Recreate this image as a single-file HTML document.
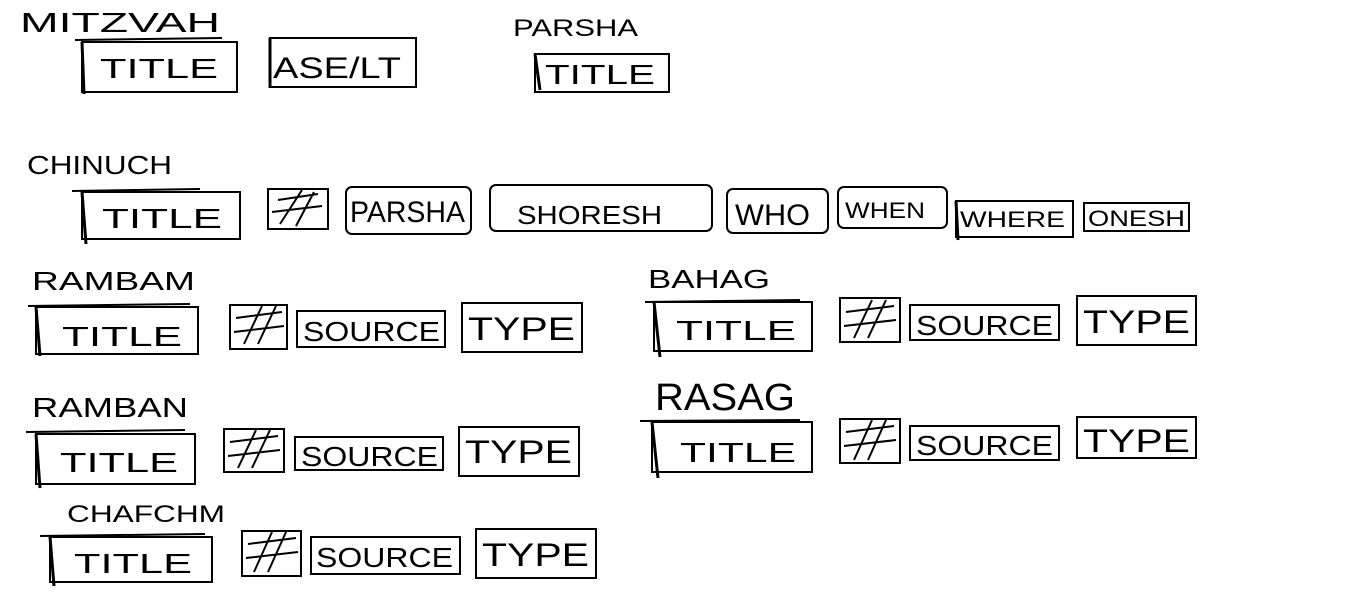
<!DOCTYPE html>
<html><head><meta charset="utf-8"><style>
html,body{margin:0;padding:0;background:#fff;}
svg{display:block}
text{font-family:"Liberation Sans",sans-serif;fill:#000}
.b{fill:none;stroke:#000;stroke-width:2}
.t{fill:none;stroke:#000;stroke-width:3}
</style></head><body>
<svg width="1360" height="599" viewBox="0 0 1360 599" xmlns="http://www.w3.org/2000/svg">
<!-- MITZVAH -->
<text x="20" y="32" font-size="28" textLength="200" lengthAdjust="spacingAndGlyphs">MITZVAH</text>
<line class="b" x1="75" y1="40" x2="222" y2="38"/>
<rect class="b" x="82" y="42" width="155" height="50"/><line class="t" x1="82" y1="42" x2="84" y2="94"/>
<text x="100" y="78" font-size="28" textLength="118" lengthAdjust="spacingAndGlyphs">TITLE</text>
<rect class="b" x="270" y="38" width="146" height="49"/><line class="t" x1="270" y1="38" x2="270" y2="88"/>
<text x="273" y="78" font-size="30" textLength="128" lengthAdjust="spacingAndGlyphs">ASE/LT</text>
<text x="513" y="36" font-size="24" textLength="125" lengthAdjust="spacingAndGlyphs">PARSHA</text>
<rect class="b" x="535" y="54" width="134" height="38"/><line class="t" x1="535" y1="54" x2="540" y2="90"/>
<text x="545" y="84" font-size="28" textLength="110" lengthAdjust="spacingAndGlyphs">TITLE</text>
<!-- CHINUCH -->
<text x="27" y="174" font-size="26" textLength="145" lengthAdjust="spacingAndGlyphs">CHINUCH</text>
<line class="b" x1="72" y1="191" x2="200" y2="189"/>
<rect class="b" x="82" y="192" width="158" height="47"/><line class="t" x1="82" y1="192" x2="86" y2="244"/>
<text x="102" y="228" font-size="28" textLength="120" lengthAdjust="spacingAndGlyphs">TITLE</text>
<rect class="b" x="268" y="189" width="60" height="40"/>
<path class="b" d="M278 200 L318 194 M272 212 L322 206 M280 224 L302 190 M296 226 L314 192"/>
<rect class="b" x="346" y="187" width="125" height="47" rx="6"/>
<text x="350" y="222" font-size="30" textLength="115" lengthAdjust="spacingAndGlyphs">PARSHA</text>
<rect class="b" x="490" y="185" width="222" height="46" rx="6"/>
<text x="517" y="224" font-size="26" textLength="145" lengthAdjust="spacingAndGlyphs">SHORESH</text>
<rect class="b" x="727" y="189" width="101" height="44" rx="6"/>
<text x="735" y="225" font-size="30" textLength="75" lengthAdjust="spacingAndGlyphs">WHO</text>
<rect class="b" x="838" y="187" width="109" height="41" rx="6"/>
<text x="845" y="218" font-size="22" textLength="80" lengthAdjust="spacingAndGlyphs">WHEN</text>
<rect class="b" x="956" y="201" width="117" height="36"/><line class="t" x1="956" y1="201" x2="958" y2="240"/>
<text x="960" y="227" font-size="22" textLength="105" lengthAdjust="spacingAndGlyphs">WHERE</text>
<rect class="b" x="1084" y="203" width="105" height="28"/>
<text x="1088" y="226" font-size="22" textLength="97" lengthAdjust="spacingAndGlyphs">ONESH</text>
<!-- RAMBAM -->
<text x="32" y="290" font-size="26" textLength="163" lengthAdjust="spacingAndGlyphs">RAMBAM</text>
<line class="b" x1="28" y1="306" x2="190" y2="304"/>
<rect class="b" x="36" y="307" width="162" height="47"/><line class="t" x1="36" y1="307" x2="40" y2="356"/>
<text x="62" y="346" font-size="28" textLength="120" lengthAdjust="spacingAndGlyphs">TITLE</text>
<rect class="b" x="230" y="305" width="57" height="44"/>
<path class="b" d="M236 318 L282 312 M234 332 L284 326 M244 344 L262 306 M258 344 L276 306"/>
<rect class="b" x="297" y="311" width="148" height="36"/>
<text x="303" y="341" font-size="28" textLength="137" lengthAdjust="spacingAndGlyphs">SOURCE</text>
<rect class="b" x="462" y="303" width="120" height="49"/>
<text x="468" y="340" font-size="32" textLength="107" lengthAdjust="spacingAndGlyphs">TYPE</text>
<!-- BAHAG -->
<text x="648" y="288" font-size="26" textLength="122" lengthAdjust="spacingAndGlyphs">BAHAG</text>
<line class="b" x1="645" y1="302" x2="800" y2="300"/>
<rect class="b" x="654" y="302" width="158" height="49"/><line class="t" x1="654" y1="302" x2="660" y2="357"/>
<text x="676" y="340" font-size="28" textLength="120" lengthAdjust="spacingAndGlyphs">TITLE</text>
<rect class="b" x="840" y="298" width="60" height="44"/>
<path class="b" d="M846 312 L894 306 M844 326 L896 320 M854 338 L872 300 M868 338 L886 300"/>
<rect class="b" x="910" y="305" width="149" height="35"/>
<text x="916" y="335" font-size="28" textLength="137" lengthAdjust="spacingAndGlyphs">SOURCE</text>
<rect class="b" x="1077" y="296" width="119" height="49"/>
<text x="1083" y="333" font-size="32" textLength="107" lengthAdjust="spacingAndGlyphs">TYPE</text>
<!-- RAMBAN -->
<text x="32" y="417" font-size="28" textLength="156" lengthAdjust="spacingAndGlyphs">RAMBAN</text>
<line class="b" x1="26" y1="432" x2="185" y2="430"/>
<rect class="b" x="36" y="434" width="159" height="50"/><line class="t" x1="36" y1="434" x2="40" y2="488"/>
<text x="60" y="472" font-size="28" textLength="118" lengthAdjust="spacingAndGlyphs">TITLE</text>
<rect class="b" x="224" y="429" width="60" height="43"/>
<path class="b" d="M230 442 L278 436 M228 456 L280 450 M238 468 L256 430 M252 468 L270 430"/>
<rect class="b" x="295" y="437" width="148" height="33"/>
<text x="301" y="466" font-size="28" textLength="137" lengthAdjust="spacingAndGlyphs">SOURCE</text>
<rect class="b" x="459" y="427" width="120" height="49"/>
<text x="465" y="463" font-size="32" textLength="107" lengthAdjust="spacingAndGlyphs">TYPE</text>
<!-- RASAG -->
<text x="655" y="410" font-size="38" textLength="140" lengthAdjust="spacingAndGlyphs">RASAG</text>
<line class="b" x1="640" y1="421" x2="800" y2="420"/>
<rect class="b" x="652" y="422" width="160" height="50"/><line class="t" x1="652" y1="422" x2="658" y2="478"/>
<text x="680" y="462" font-size="28" textLength="116" lengthAdjust="spacingAndGlyphs">TITLE</text>
<rect class="b" x="840" y="419" width="60" height="44"/>
<path class="b" d="M846 432 L894 426 M844 446 L896 440 M854 460 L872 420 M868 460 L886 420"/>
<rect class="b" x="910" y="426" width="149" height="34"/>
<text x="916" y="455" font-size="28" textLength="137" lengthAdjust="spacingAndGlyphs">SOURCE</text>
<rect class="b" x="1077" y="417" width="119" height="41"/>
<text x="1083" y="452" font-size="32" textLength="107" lengthAdjust="spacingAndGlyphs">TYPE</text>
<!-- CHAFCHM -->
<text x="67" y="522" font-size="24" textLength="158" lengthAdjust="spacingAndGlyphs">CHAFCHM</text>
<line class="b" x1="40" y1="536" x2="205" y2="534"/>
<rect class="b" x="50" y="537" width="162" height="45"/><line class="t" x1="50" y1="537" x2="54" y2="586"/>
<text x="74" y="573" font-size="28" textLength="118" lengthAdjust="spacingAndGlyphs">TITLE</text>
<rect class="b" x="242" y="531" width="59" height="45"/>
<path class="b" d="M248 544 L296 538 M246 558 L298 552 M254 572 L272 532 M268 572 L286 532"/>
<rect class="b" x="311" y="537" width="149" height="37"/>
<text x="316" y="567" font-size="28" textLength="137" lengthAdjust="spacingAndGlyphs">SOURCE</text>
<rect class="b" x="476" y="529" width="120" height="49"/>
<text x="482" y="566" font-size="32" textLength="107" lengthAdjust="spacingAndGlyphs">TYPE</text>
</svg>
</body></html>
